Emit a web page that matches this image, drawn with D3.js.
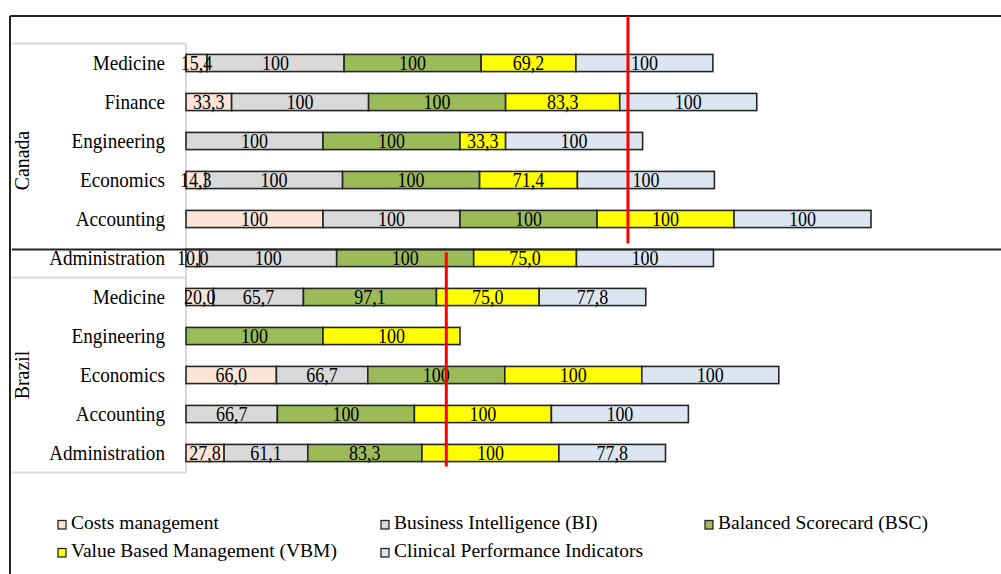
<!DOCTYPE html>
<html>
<head>
<meta charset="utf-8">
<script src="https://cdn.jsdelivr.net/npm/d3@7"></script>
<style>
  html, body { margin: 0; padding: 0; background: #fff; }
  svg { display: block; }
  text { font-family: "Liberation Serif", "Times New Roman", serif; fill: #000; }
</style>
</head>
<body>
<svg id="chart" width="1001" height="574"></svg>
<script>
// Areas by country, top to bottom
const countries = ["Canada", "Brazil"];
const canadaAreas = ["Medicine", "Finance", "Engineering", "Economics", "Accounting", "Administration"];
const brazilAreas = ["Medicine", "Engineering", "Economics", "Accounting", "Administration"];

// Management tools (stack order, left to right)
const seriesNames = [
  "Costs management",
  "Business Intelligence (BI)",
  "Balanced Scorecard (BSC)",
  "Value Based Management (VBM)",
  "Clinical Performance Indicators"
];
const seriesColors = ["#FBE5D6", "#D9D9D9", "#9BBB59", "#FFFF00", "#DCE6F2"];

// Percentages per row: Canada rows first, then Brazil rows
const costsManagement = [15.4, 33.3, 0, 14.3, 100, 10.0, 20.0, 0, 66.0, 0, 27.8];
const businessIntel   = [100, 100, 100, 100, 100, 100, 65.7, 0, 66.7, 66.7, 61.1];
const balancedScore   = [100, 100, 100, 100, 100, 100, 97.1, 100, 100, 100, 83.3];
const valueBased      = [69.2, 83.3, 33.3, 71.4, 100, 75.0, 75.0, 100, 100, 100, 100];
const clinicalInd     = [100, 100, 100, 100, 100, 100, 77.8, 0, 100, 100, 77.8];

// Red reference markers per country
const markerValues = [322.6, 190.0];

const xMax = 500;

// ---- build rows ----
const rows = [];
canadaAreas.forEach(a => rows.push({ country: "Canada", area: a }));
brazilAreas.forEach(a => rows.push({ country: "Brazil", area: a }));
const allSeries = [costsManagement, businessIntel, balancedScore, valueBased, clinicalInd];
rows.forEach((r, i) => {
  r.key = r.country + "|" + r.area;
  seriesNames.forEach((s, j) => { r[s] = allSeries[j][i]; });
});

const svg = d3.select("#chart");

const x = d3.scaleLinear().domain([0, xMax]).range([186, 871]);
const y = d3.scaleBand()
  .domain(rows.map(r => r.key))
  .range([43.5, 472.5])
  .paddingInner(0.56)
  .paddingOuter(0.28);
const color = d3.scaleOrdinal().domain(seriesNames).range(seriesColors);

const step = y.step();
const rowTop = k => y(k) - (step - y.bandwidth()) / 2;

// ---- frame ----
svg.append("line").attr("x1", 10).attr("x2", 1001).attr("y1", 16).attr("y2", 16)
  .attr("stroke", "#222").attr("stroke-width", 2);
svg.append("line").attr("x1", 10).attr("x2", 10).attr("y1", 16).attr("y2", 574)
  .attr("stroke", "#222").attr("stroke-width", 2);

// ---- category label panel ----
const panel = svg.append("g").attr("stroke", "#d9d9d9").attr("stroke-width", 2).attr("fill", "none");
const yTop = rowTop(rows[0].key);
const ySplit = rowTop(rows[canadaAreas.length].key);
const yBottom = rowTop(rows[rows.length - 1].key) + step;
panel.append("line").attr("x1", x(0)).attr("x2", x(0)).attr("y1", yTop).attr("y2", yBottom);
[yTop, ySplit, yBottom].forEach(v => {
  panel.append("line").attr("x1", 12).attr("x2", x(0)).attr("y1", v).attr("y2", v);
});

// ---- stacked bars ----
const stacked = d3.stack().keys(seriesNames)(rows);

const layers = svg.append("g").selectAll("g")
  .data(stacked).join("g")
  .attr("fill", d => color(d.key));

layers.selectAll("rect")
  .data(d => d.filter(s => s.data[d.key] > 0))
  .join("rect")
  .attr("x", d => x(d[0]))
  .attr("y", d => y(d.data.key))
  .attr("width", d => x(d[1]) - x(d[0]))
  .attr("height", y.bandwidth())
  .attr("stroke", "#262626")
  .attr("stroke-width", 1.6);

// ---- value labels ----
const fmt = v => v === 100 ? "100" : v.toFixed(1).replace(".", ",");
const labels = svg.append("g");
stacked.forEach(layer => {
  layer.forEach(seg => {
    const v = seg.data[layer.key];
    if (!(v > 0)) return;
    const cx = (x(seg[0]) + x(seg[1])) / 2;
    const cy = y(seg.data.key) + y.bandwidth() / 2;
    labels.append("text")
      .attr("transform", `translate(${cx},${cy}) scale(0.9,1)`)
      .attr("text-anchor", "middle")
      .attr("dominant-baseline", "central")
      .attr("font-size", 20)
      .text(fmt(v));
  });
});

// ---- area labels ----
svg.append("g").selectAll("text")
  .data(rows).join("text")
  .attr("transform", d => `translate(165,${y(d.key) + y.bandwidth() / 2}) scale(0.87,1)`)
  .attr("text-anchor", "end")
  .attr("dominant-baseline", "central")
  .attr("font-size", 22)
  .text(d => d.area);

// ---- country labels ----
const countryExtents = [[yTop, ySplit], [ySplit, yBottom]];
countries.forEach((c, i) => {
  const cy = (countryExtents[i][0] + countryExtents[i][1]) / 2;
  svg.append("text")
    .attr("transform", `translate(22,${cy}) rotate(-90) scale(0.9,1)`)
    .attr("text-anchor", "middle")
    .attr("dominant-baseline", "central")
    .attr("font-size", 22)
    .text(c);
});

// ---- divider between country blocks (top edge of Canada's last bar) ----
const dividerY = y(rows[canadaAreas.length - 1].key);
svg.append("line").attr("x1", 12).attr("x2", 1001).attr("y1", dividerY).attr("y2", dividerY)
  .attr("stroke", "#222").attr("stroke-width", 2);

// ---- red reference markers ----
svg.append("line")
  .attr("x1", x(markerValues[0])).attr("x2", x(markerValues[0]))
  .attr("y1", 16).attr("y2", dividerY - 6)
  .attr("stroke", "#FF0000").attr("stroke-width", 3);
svg.append("line")
  .attr("x1", x(markerValues[1])).attr("x2", x(markerValues[1]))
  .attr("y1", dividerY + 3).attr("y2", y(rows[rows.length - 1].key) + y.bandwidth() + 5)
  .attr("stroke", "#FF0000").attr("stroke-width", 3);

// ---- legend ----
const legendPos = [[58, 529], [381, 529], [705, 529], [58, 557], [381, 557]];
const legend = svg.append("g").selectAll("g")
  .data(seriesNames).join("g")
  .attr("transform", (d, i) => `translate(${legendPos[i][0]},${legendPos[i][1]})`);
legend.append("rect")
  .attr("x", 0).attr("y", -8.5).attr("width", 8).attr("height", 8.5)
  .attr("fill", d => color(d))
  .attr("stroke", "#262626").attr("stroke-width", 1.3);
legend.append("text")
  .attr("x", 13).attr("y", 0)
  .attr("font-size", 19.5)
  .text(d => d);
</script>
</body>
</html>
